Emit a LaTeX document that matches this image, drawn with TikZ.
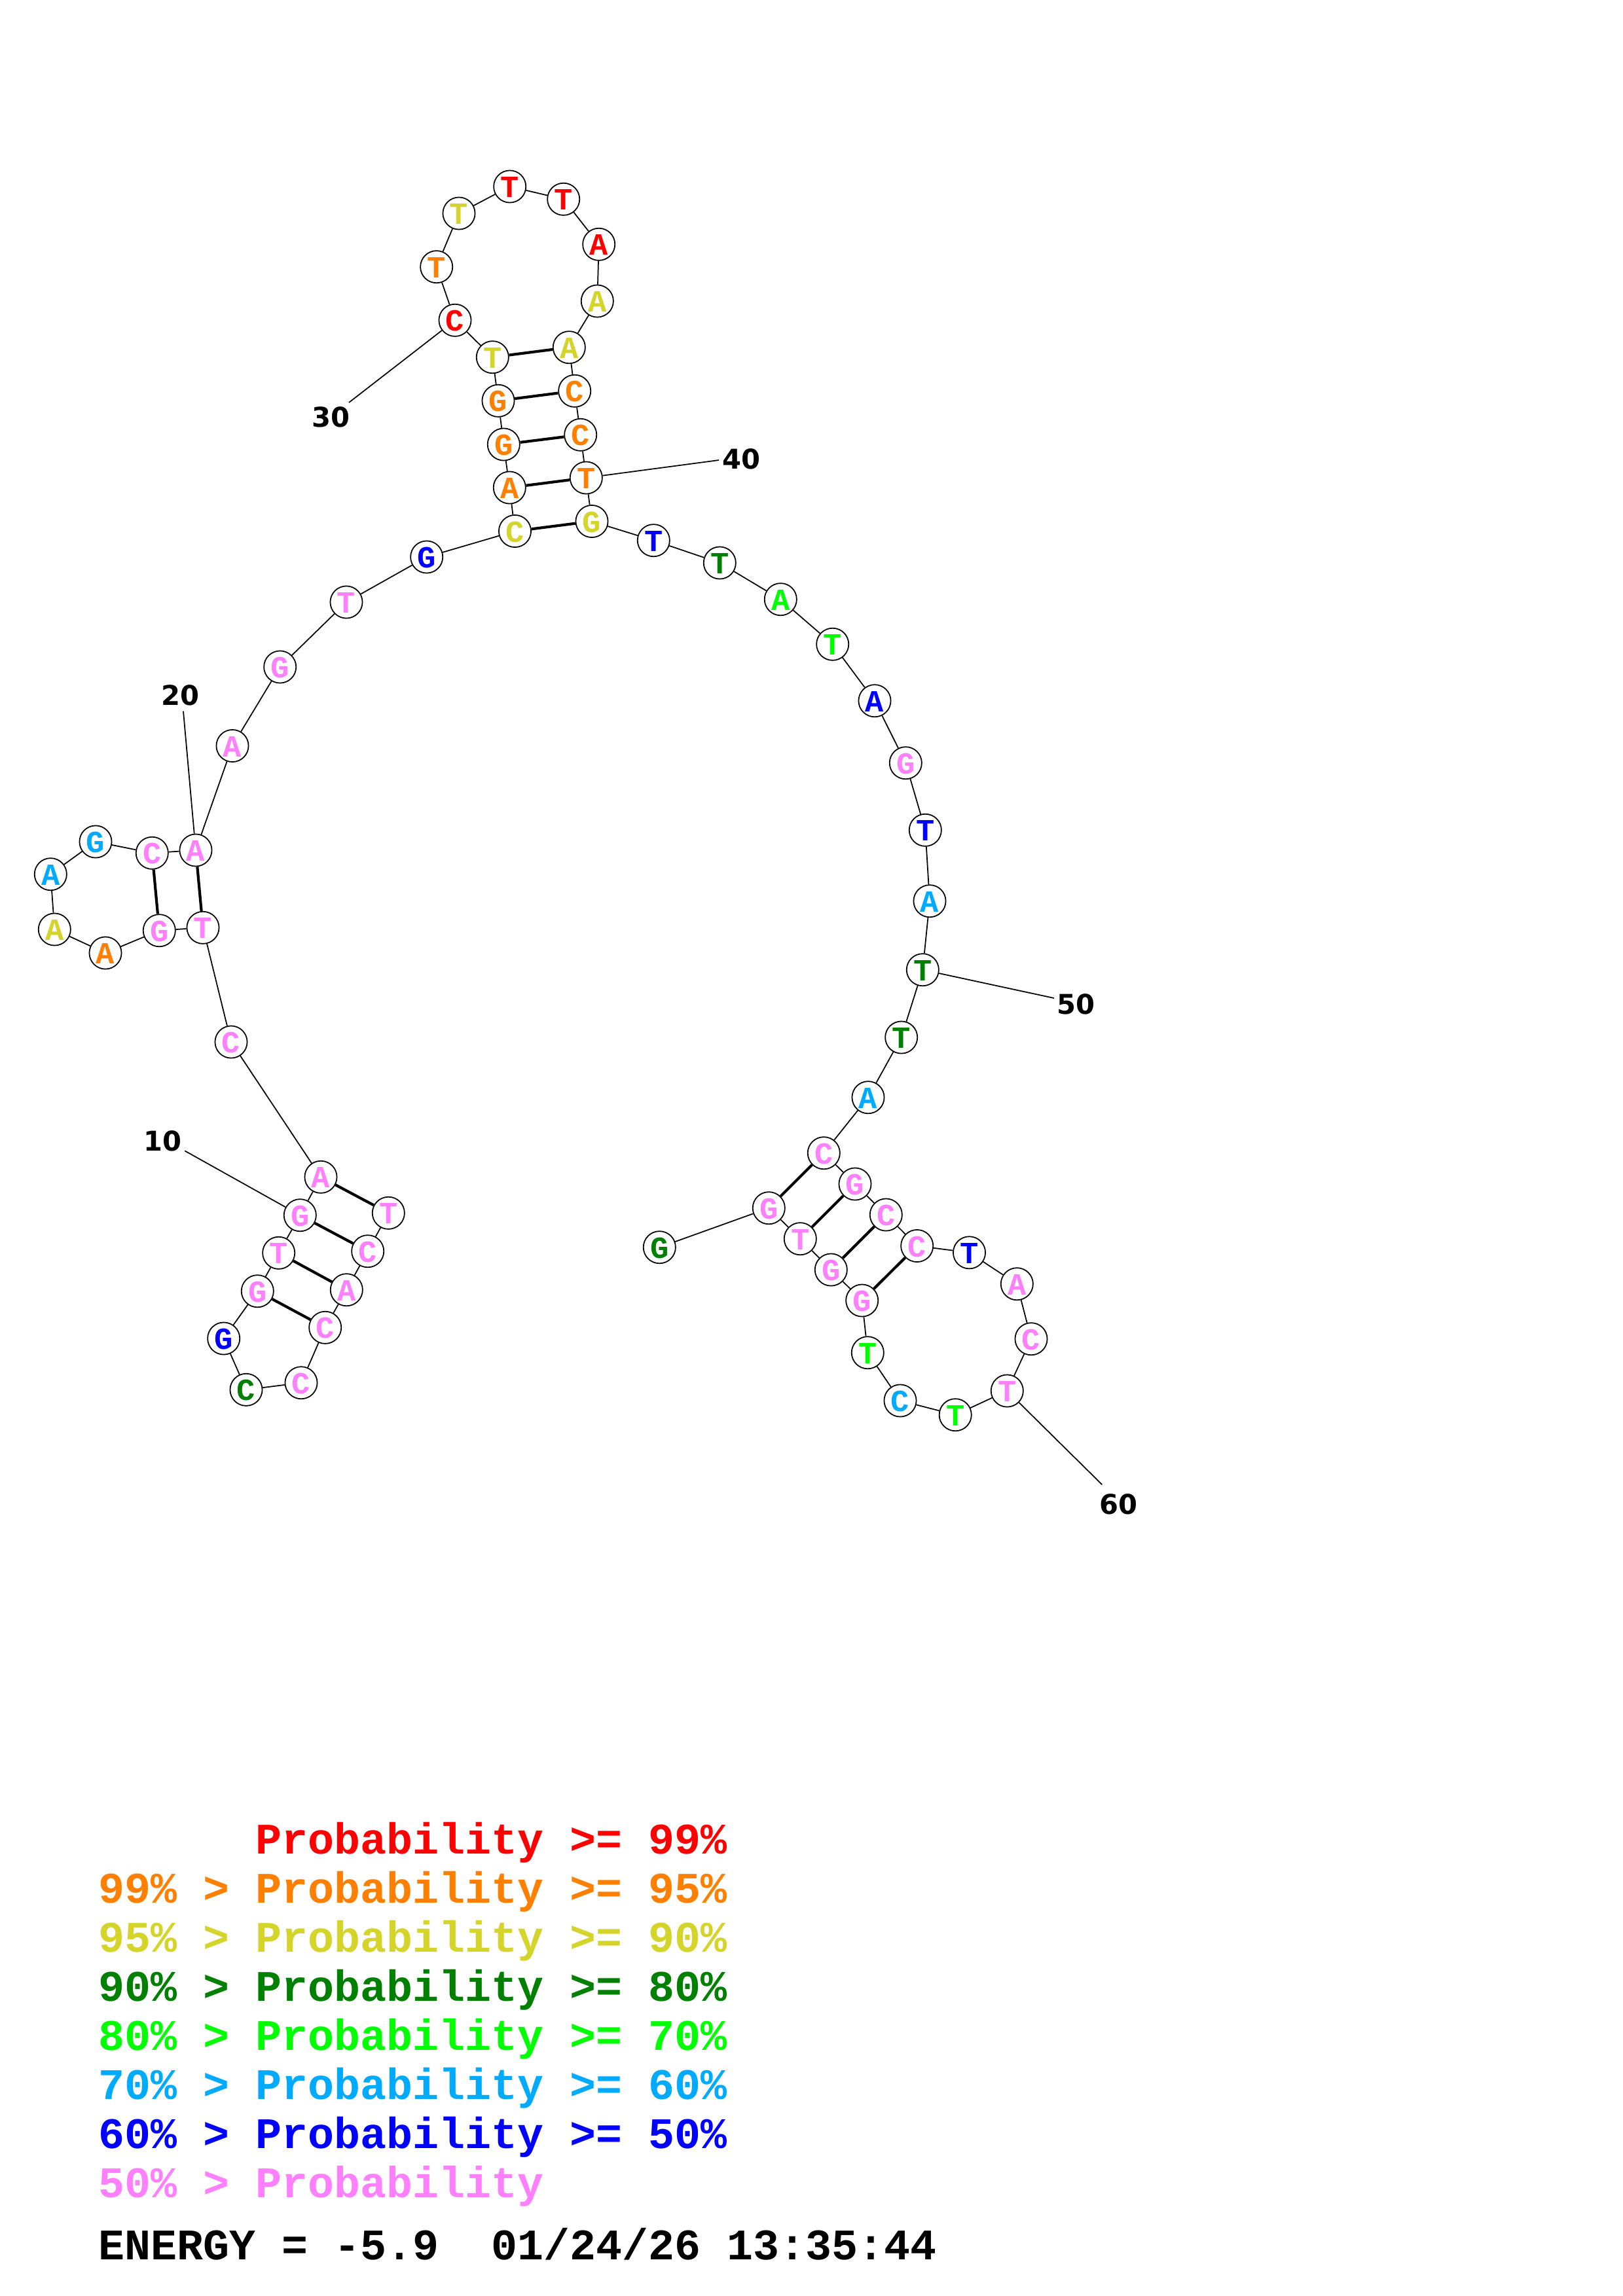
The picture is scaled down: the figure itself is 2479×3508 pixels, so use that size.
\documentclass[tikz,border=0pt]{standalone}
\usepackage{fontspec}
\setmonofont{Liberation Mono}
\newfontfamily\labfont{DejaVu Sans}
\definecolor{cR}{RGB}{255,0,0}
\definecolor{cO}{RGB}{255,128,0}
\definecolor{cY}{RGB}{212,212,42}
\definecolor{cDG}{RGB}{0,128,0}
\definecolor{cG}{RGB}{0,255,0}
\definecolor{cLB}{RGB}{0,170,255}
\definecolor{cB}{RGB}{0,0,255}
\definecolor{cP}{RGB}{255,128,255}
\tikzset{
  nt/.style={circle, draw=black, line width=0.42pt, fill=white, minimum size=11.8pt, inner sep=0pt,
    font=\ttfamily\bfseries\fontsize{11.3}{11.3}\selectfont, text height=8pt, text depth=0pt},
  bb/.style={line width=0.42pt},
  bp/.style={line width=1pt},
  numlab/.style={font=\labfont\bfseries\fontsize{10}{10}\selectfont, inner sep=0pt},
  leg/.style={anchor=base west, inner sep=0pt, font=\ttfamily\bfseries\fontsize{16}{16}\selectfont}
}
\begin{document}
\begin{tikzpicture}[x=0.240127pt, y=-0.240127pt]
\useasboundingbox (0,0) rectangle (2479,3508);
\foreach \i/\x/\y/\c/\l in {
1/593.3/1853.3/cP/T, 2/561.7/1911.7/cP/C, 3/529.3/1970.7/cP/A, 4/496.7/2028.3/cP/C,
5/460/2112.7/cP/C, 6/376/2123.3/cDG/C, 7/341.7/2045/cB/G, 8/393.3/1972.7/cP/G,
9/425.7/1914.3/cP/T, 10/458.3/1856.7/cP/G, 11/490/1798.3/cP/A, 12/353/1592/cP/C,
13/310/1417.3/cP/T, 14/243.3/1421.7/cP/G, 15/161/1456/cO/A, 16/83.3/1420/cY/A,
17/77.3/1335.7/cLB/A, 18/146/1286/cLB/G, 19/232.3/1303.3/cP/C, 20/299/1299/cP/A,
21/355/1139.5/cP/A, 22/427.7/1019/cP/G, 23/529/920/cP/T, 24/651.7/851/cB/G,
25/786.5/811.5/cY/C, 26/778.3/745/cO/A, 27/769.3/679/cO/G, 28/761/612.3/cO/G,
29/752.3/545.7/cY/T, 30/695/489.3/cR/C, 31/666.7/407.7/cO/T, 32/701/326/cY/T,
33/778.7/285/cR/T, 34/860.7/304.3/cR/T, 35/914.7/373.3/cR/A, 36/912.3/460/cY/A,
37/869.3/530.7/cY/A, 38/877.7/597.3/cO/C, 39/886.7/664.3/cO/C, 40/895.3/730/cO/T,
41/904/796.5/cY/G, 42/998.3/825.7/cB/T, 43/1099.3/860/cDG/T, 44/1192.3/915.7/cG/A,
45/1271.7/984.3/cG/T, 46/1336/1070.7/cB/A, 47/1383.3/1165.7/cP/G, 48/1413.3/1268.3/cB/T,
49/1420/1376.7/cLB/A, 50/1409.3/1481.7/cDG/T, 51/1376.7/1585/cDG/T, 52/1326/1676.7/cLB/A,
53/1258.3/1761.7/cP/C, 54/1306/1809/cP/G, 55/1353.3/1856/cP/C, 56/1400.7/1903.5/cP/C,
57/1480.5/1913.8/cB/T, 58/1553.3/1961.7/cP/A, 59/1575/2045.7/cP/C, 60/1538.3/2125/cP/T,
61/1459.2/2161.7/cG/T, 62/1375/2140/cLB/C, 63/1325.3/2066.7/cG/T, 64/1316.7/1987/cP/G,
65/1269.3/1940/cP/G, 66/1222.3/1892.7/cP/T, 67/1174.3/1845.7/cP/G, 68/1007.3/1905.7/cDG/G}
  \node[nt, text=\c] (n\i) at (\x,\y) {\l};
\foreach \i in {1,...,67}{
  \pgfmathtruncatemacro\j{\i+1}
  \draw[bb] (n\i) -- (n\j);
}
\foreach \a/\b in {1/11, 2/10, 3/9, 4/8, 13/20, 14/19, 25/41, 26/40, 27/39, 28/38, 29/37, 53/67, 54/66, 55/65, 56/64}
  \draw[bp] (n\a) -- (n\b);
% number labels
\coordinate (e10) at (282.3,1758.3);
\coordinate (e20) at (280,1086.7);
\coordinate (e30) at (533,615);
\coordinate (e40) at (1098,703);
\coordinate (e50) at (1610,1525);
\coordinate (e60) at (1683.3,2268.3);
\foreach \k in {10,20,30,40,50,60}
  \draw[bb] (n\k) -- (e\k);
\node[numlab] (t10) at (248,1743) {10};
\node[numlab] (t20) at (275,1062) {20};
\node[numlab] (t30) at (505,637) {30};
\node[numlab] (t40) at (1132,701) {40};
\node[numlab] (t50) at (1643,1534) {50};
\node[numlab] (t60) at (1708,2298) {60};
% legend
\node[leg, text=cR] (l1) at (390,2832) {Probability >= 99\%};
\node[leg, text=cO] (l2) at (150,2907) {99\% > Probability >= 95\%};
\node[leg, text=cY] (l3) at (150,2982) {95\% > Probability >= 90\%};
\node[leg, text=cDG] (l4) at (150,3057) {90\% > Probability >= 80\%};
\node[leg, text=cG] (l5) at (150,3132) {80\% > Probability >= 70\%};
\node[leg, text=cLB] (l6) at (150,3207) {70\% > Probability >= 60\%};
\node[leg, text=cB] (l7) at (150,3282) {60\% > Probability >= 50\%};
\node[leg, text=cP] (l8) at (150,3357) {50\% > Probability};
\node[leg, text=black] (l9) at (150,3452) {ENERGY = -5.9~~01/24/26 13:35:44};
\end{tikzpicture}
\end{document}
